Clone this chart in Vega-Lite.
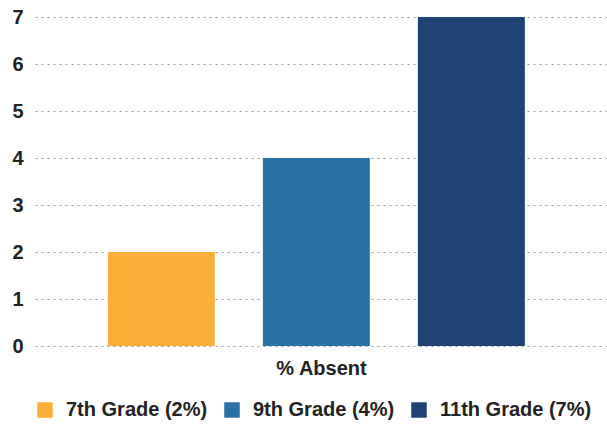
{
  "$schema": "https://vega.github.io/schema/vega-lite/v6.json",
  "width": 572,
  "height": 329,
  "autosize": {"type": "none"},
  "padding": {"left": 35, "top": 17, "right": 0, "bottom": 79},
  "background": "white",
  "data": {"values": [
    {"grade": "7th Grade (2%)", "value": 2},
    {"grade": "9th Grade (4%)", "value": 4},
    {"grade": "11th Grade (7%)", "value": 7}
  ]},
  "mark": {"type": "bar"},
  "encoding": {
    "x": {
      "field": "grade", "type": "nominal",
      "sort": ["7th Grade (2%)", "9th Grade (4%)", "11th Grade (7%)"],
      "scale": {"paddingInner": 0.31, "paddingOuter": 0.5, "align": 0.47},
      "axis": {"title": "% Absent", "labels": false, "ticks": false, "domain": false,
               "titleFont": "Liberation Sans", "titleFontSize": 20, "titleFontWeight": "bold",
               "titleColor": "#222", "titlePadding": 12}
    },
    "y": {
      "field": "value", "type": "quantitative",
      "scale": {"domain": [0, 7], "nice": false},
      "axis": {"title": null, "values": [0,1,2,3,4,5,6,7], "domain": false, "ticks": false,
               "labelFont": "Liberation Sans", "labelFontSize": 20, "labelFontWeight": "bold",
               "labelColor": "#222", "labelPadding": 12,
               "gridColor": "#9a9a9a", "gridDash": [2, 4], "gridWidth": 1.2}
    },
    "color": {
      "field": "grade", "type": "nominal",
      "sort": ["7th Grade (2%)", "9th Grade (4%)", "11th Grade (7%)"],
      "scale": {"range": ["#FBAF38", "#2A72A6", "#1F4275"]},
      "legend": {"title": null, "orient": "bottom", "direction": "horizontal",
                 "symbolType": "square", "symbolSize": 240, "symbolStrokeWidth": 0,
                 "labelFont": "Liberation Sans", "labelFontSize": 20, "labelFontWeight": "bold",
                 "labelColor": "#222", "labelOffset": 11, "columnPadding": 14, "offset": 22, "labelLimit": 300}
    }
  },
  "config": {"view": {"stroke": null}}
}
